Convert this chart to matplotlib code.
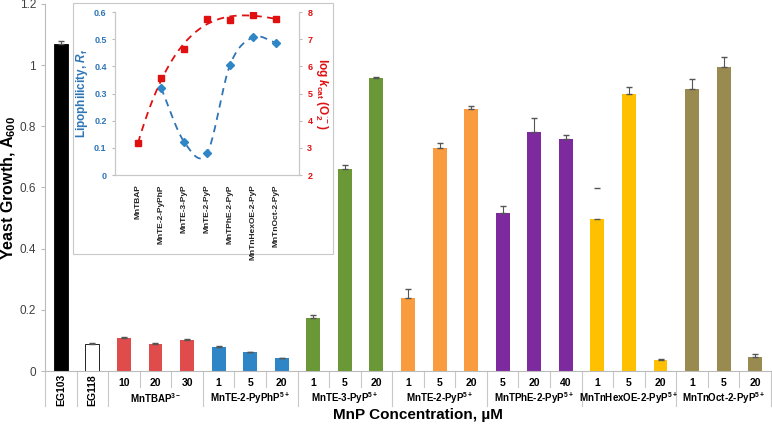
import numpy as np
import matplotlib
matplotlib.use("Agg")
import matplotlib.pyplot as plt
from matplotlib.patches import Rectangle

plt.rcParams['font.family'] = ['Liberation Sans', 'DejaVu Sans']
plt.rcParams['mathtext.fontset'] = 'custom'
plt.rcParams['mathtext.rm'] = 'Liberation Sans:bold'
plt.rcParams['mathtext.it'] = 'Liberation Sans:bold:italic'
plt.rcParams['mathtext.bf'] = 'Liberation Sans:bold'

# main bar data
controls = ["EG103", "EG118"]
control_vals = [1.068, 0.088]
control_err = [0.012, 0.003]

groups = ["MnTBAP$^{3-}$", "MnTE-2-PyPhP$^{5+}$", "MnTE-3-PyP$^{5+}$", "MnTE-2-PyP$^{5+}$",
          "MnTPhE-2-PyP$^{5+}$", "MnTnHexOE-2-PyP$^{5+}$", "MnTnOct-2-PyP$^{5+}$"]
doses = [["10", "20", "30"], ["1", "5", "20"], ["1", "5", "20"], ["1", "5", "20"],
         ["5", "20", "40"], ["1", "5", "20"], ["1", "5", "20"]]
growth = [[0.109, 0.088, 0.102],
          [0.079, 0.061, 0.041],
          [0.174, 0.659, 0.959],
          [0.240, 0.730, 0.856],
          [0.518, 0.783, 0.757],
          [0.496, 0.906, 0.036],
          [0.922, 0.993, 0.047]]
growth_err = [[0.003, 0.003, 0.003],
              [0.002, 0.002, 0.002],
              [0.008, 0.016, 0.003],
              [0.027, 0.016, 0.009],
              [0.020, 0.044, 0.016],
              [0.104, 0.021, 0.002],
              [0.034, 0.034, 0.008]]
group_colors = ["#E04B4B", "#2E86C6", "#6B9837", "#F99B3F", "#7D2A9E", "#FFC000", "#998A4F"]

# inset data
porph = ["MnTBAP", "MnTE-2-PyPhP", "MnTE-3-PyP", "MnTE-2-PyP", "MnTPhE-2-PyP",
         "MnTnHexOE-2-PyP", "MnTnOct-2-PyP"]
log_kcat = [3.16, 5.56, 6.65, 7.76, 7.71, 7.90, 7.74]
rf_idx = [1, 2, 3, 4, 5, 6]
rf = [0.321, 0.123, 0.080, 0.405, 0.507, 0.487]


def smooth_line(xp, yp, n=30):
    # excel-like smoothed line (catmull-rom style through the points)
    xp = np.asarray(xp, float)
    yp = np.asarray(yp, float)
    m = np.gradient(yp, xp)
    m[0] = yp[1] - yp[0]
    m[-1] = yp[-1] - yp[-2]
    xs, ys = [], []
    for i in range(len(xp) - 1):
        t = np.linspace(0, 1, n)
        h = xp[i + 1] - xp[i]
        h00 = 2*t**3 - 3*t**2 + 1
        h10 = t**3 - 2*t**2 + t
        h01 = -2*t**3 + 3*t**2
        h11 = t**3 - t**2
        xs.append(xp[i] + t * h)
        ys.append(h00*yp[i] + h10*h*m[i] + h01*yp[i+1] + h11*h*m[i+1])
    return np.concatenate(xs), np.concatenate(ys)


fig = plt.figure(figsize=(7.72, 4.29), dpi=100)
ax = fig.add_axes([45/772, 1-371/429, 726/772, 367/429])

x = 0
for v, e in zip(control_vals, control_err):
    fc = "black" if x == 0 else "white"
    ax.bar(x, v, width=0.44, color=fc, edgecolor="black", linewidth=0.6, zorder=2)
    ax.errorbar(x, v, yerr=[[0], [e]], fmt="none", ecolor="#555555", elinewidth=0.8, capsize=2, zorder=3)
    x += 1
for g, col in enumerate(group_colors):
    for k, (v, e) in enumerate(zip(growth[g], growth_err[g])):
        ax.bar(x, v, width=0.44, color=col, zorder=2)
        # the MnTnHexOE 1 uM error line is not visible in the original, only its cap
        elw = 0.0 if (g, k) == (5, 0) else 0.8
        ax.errorbar(x, v, yerr=[[0], [e]], fmt="none", ecolor="#555555", elinewidth=elw, capsize=2, zorder=3)
        x += 1

ax.set_xlim(-0.5, 22.5)
ax.set_ylim(0, 1.2)
ax.set_yticks(np.arange(0, 1.21, 0.2))
ax.set_yticklabels(["0", "0.2", "0.4", "0.6", "0.8", "1", "1.2"])
ax.tick_params(axis="y", labelsize=8.5, colors="#404040", length=3, color="#BBBBBB")
ax.set_xticks([])
for s in ["top", "right"]:
    ax.spines[s].set_visible(False)
ax.spines["left"].set_color("#BBBBBB")
ax.spines["bottom"].set_color("#BBBBBB")
ax.set_ylabel("Yeast Growth, A$_{600}$", fontsize=11.5, fontweight="bold")
ax.yaxis.set_label_coords(-0.037, 0.5)

# category labels under axis
tr = ax.get_xaxis_transform()
long_y, short_y = -0.095, -0.044
for b in [-0.5, 0.5, 1.5, 4.5, 7.5, 10.5, 13.5, 16.5, 19.5, 22.5]:
    ax.plot([b, b], [0, long_y], transform=tr, color="#C8C8C8", lw=0.8, clip_on=False)
for g in range(len(groups)):
    start = 2 + 3 * g
    for b in [start + 0.5, start + 1.5]:
        ax.plot([b, b], [0, short_y], transform=tr, color="#C8C8C8", lw=0.8, clip_on=False)
    for k, d in enumerate(doses[g]):
        ax.text(start + k, -0.033, d, transform=tr, ha="center", va="center", fontsize=7.5, fontweight="bold")
    ax.text(start + 1, -0.074, groups[g], transform=tr, ha="center", va="center", fontsize=7, fontweight="bold")
for i, c in enumerate(controls):
    ax.text(i, -0.052, c, transform=tr, ha="center", va="center", rotation=90, fontsize=7.5, fontweight="bold")
ax.text(11.3, -0.12, "MnP Concentration, µM", transform=tr, ha="center", va="center", fontsize=11, fontweight="bold")

# inset
fig.patches.append(Rectangle((73/772, 1-254/429), 260/772, 251/429, transform=fig.transFigure,
                             facecolor="white", edgecolor="#C8C8C8", lw=0.8, zorder=1))
ins = fig.add_axes([115/772, 1-175/429, 184/772, 163/429], zorder=2)
ins.patch.set_alpha(0)
ins2 = ins.twinx()

xi = np.arange(len(porph))
cr = np.polyfit(xi, log_kcat, 4)
xs = np.linspace(0, 6, 100)
ins2.plot(xs, np.polyval(cr, xs), "--", color="#E01010", lw=1.3, dashes=(4, 3))
ins2.plot(xi, log_kcat, "s", color="#E01010", ms=4.5)
bx, by = smooth_line(rf_idx, rf)
ins.plot(bx, by, "--", color="#2E75B6", lw=1.3, dashes=(4, 3))
ins.plot(rf_idx, rf, "D", color="#2E86C6", ms=4.5)

ins.set_xlim(-1, 7)
ins.set_ylim(0, 0.6)
ins2.set_ylim(2, 8)
ins.set_yticks(np.arange(0, 0.61, 0.1))
ins.set_yticklabels(["0", "0.1", "0.2", "0.3", "0.4", "0.5", "0.6"])
ins2.set_yticks(range(2, 9))
ins.set_xticks(xi)
ins.set_xticklabels(porph, rotation=90, fontsize=6, fontweight="bold", color="#222222")
ins.tick_params(axis="x", length=0, pad=7)
ins.tick_params(axis="y", labelsize=6.5, colors="#2E75B6", length=2.5, color="#BBBBBB")
ins2.tick_params(axis="y", labelsize=6.5, colors="#E01010", length=2.5, color="#BBBBBB")
for a in (ins, ins2):
    for t in a.get_yticklabels():
        t.set_fontweight("bold")
    a.spines["top"].set_visible(False)
    for s in ["left", "right", "bottom"]:
        a.spines[s].set_color("#C8C8C8")
ins.set_ylabel("Lipophilicity, $\\it{R}_\\mathrm{f}$", fontsize=8.5, fontweight="bold", color="#2E75B6", labelpad=3)
ins2.set_ylabel("log $\\it{k}_\\mathrm{cat}$ (O$_2^{\\cdot-}$)", fontsize=8.5, fontweight="bold",
                color="#E01010", rotation=270, labelpad=12)

fig.savefig("out.png", dpi=100)
